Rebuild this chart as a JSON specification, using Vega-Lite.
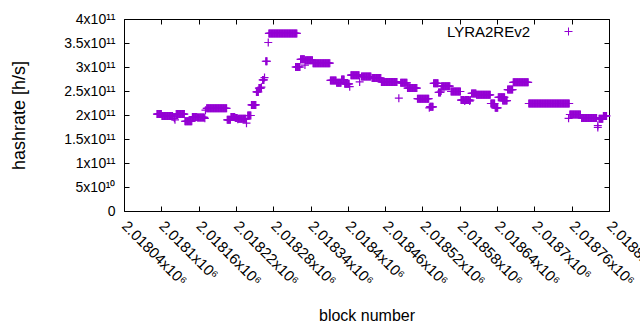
{
  "$schema": "https://vega.github.io/schema/vega-lite/v6.json",
  "width": 485,
  "height": 192,
  "autosize": {"type": "none"},
  "padding": {"left": 124, "top": 19, "right": 31, "bottom": 119},
  "background": "white",
  "config": {
    "view": {"stroke": "black", "strokeWidth": 1},
    "font": "Liberation Sans",
    "axis": {"domain": false, "grid": false, "tickColor": "black", "tickSize": -5, "tickWidth": 1, "labelColor": "black", "titleColor": "black", "labelFont": "Liberation Sans", "titleFont": "Liberation Sans", "titleFontWeight": "normal"}
  },
  "data": {"values": [
{"b":2018093,"h":2.02e11},{"b":2018094,"h":2.02e11},{"b":2018095,"h":2.02e11},{"b":2018096,"h":2.02e11},{"b":2018097,"h":2.02e11},{"b":2018098,"h":2.02e11},{"b":2018099,"h":2.02e11},{"b":2018100,"h":2.02e11},
{"b":2018101,"h":1.98e11},{"b":2018102,"h":1.98e11},{"b":2018103,"h":1.98e11},{"b":2018104,"h":1.98e11},{"b":2018105,"h":1.98e11},{"b":2018106,"h":1.98e11},{"b":2018107,"h":1.98e11},{"b":2018108,"h":1.98e11},{"b":2018109,"h":1.98e11},{"b":2018110,"h":1.98e11},{"b":2018111,"h":1.98e11},{"b":2018112,"h":1.98e11},{"b":2018113,"h":1.98e11},{"b":2018114,"h":1.98e11},{"b":2018115,"h":1.98e11},{"b":2018116,"h":1.98e11},{"b":2018117,"h":1.98e11},{"b":2018118,"h":1.98e11},{"b":2018119,"h":1.96e11},
{"b":2018121,"h":1.93e11},{"b":2018122,"h":1.9e11},
{"b":2018124,"h":2.02e11},{"b":2018125,"h":2.02e11},{"b":2018126,"h":2.02e11},{"b":2018127,"h":2.02e11},{"b":2018128,"h":2.02e11},{"b":2018129,"h":2.02e11},{"b":2018130,"h":2.02e11},{"b":2018131,"h":2.02e11},{"b":2018132,"h":2.02e11},{"b":2018133,"h":2.02e11},{"b":2018134,"h":2.02e11},{"b":2018135,"h":2.02e11},{"b":2018136,"h":2.02e11},{"b":2018137,"h":2.02e11},
{"b":2018138,"h":1.87e11},{"b":2018139,"h":1.87e11},{"b":2018140,"h":1.87e11},{"b":2018141,"h":1.87e11},{"b":2018142,"h":1.87e11},{"b":2018143,"h":1.87e11},{"b":2018144,"h":1.87e11},{"b":2018145,"h":1.87e11},{"b":2018146,"h":1.87e11},{"b":2018147,"h":1.87e11},{"b":2018148,"h":1.87e11},{"b":2018149,"h":1.87e11},
{"b":2018150,"h":1.96e11},{"b":2018151,"h":1.96e11},{"b":2018152,"h":1.96e11},{"b":2018153,"h":1.96e11},{"b":2018154,"h":1.96e11},{"b":2018155,"h":1.96e11},{"b":2018156,"h":1.96e11},{"b":2018157,"h":1.96e11},
{"b":2018158,"h":1.95e11},{"b":2018159,"h":1.95e11},{"b":2018160,"h":1.95e11},{"b":2018161,"h":1.95e11},{"b":2018162,"h":1.95e11},{"b":2018163,"h":1.95e11},{"b":2018164,"h":1.95e11},{"b":2018165,"h":1.95e11},{"b":2018166,"h":1.95e11},{"b":2018167,"h":1.95e11},{"b":2018168,"h":1.95e11},{"b":2018169,"h":1.95e11},{"b":2018170,"h":1.93e11},
{"b":2018171,"h":2.1e11},
{"b":2018173,"h":2.14e11},{"b":2018174,"h":2.14e11},{"b":2018175,"h":2.14e11},{"b":2018176,"h":2.14e11},{"b":2018177,"h":2.14e11},{"b":2018178,"h":2.14e11},{"b":2018179,"h":2.14e11},{"b":2018180,"h":2.14e11},{"b":2018181,"h":2.14e11},{"b":2018182,"h":2.14e11},{"b":2018183,"h":2.14e11},{"b":2018184,"h":2.14e11},{"b":2018185,"h":2.14e11},{"b":2018186,"h":2.14e11},{"b":2018187,"h":2.14e11},{"b":2018188,"h":2.14e11},{"b":2018189,"h":2.14e11},{"b":2018190,"h":2.14e11},{"b":2018191,"h":2.14e11},{"b":2018192,"h":2.14e11},{"b":2018193,"h":2.14e11},{"b":2018194,"h":2.14e11},{"b":2018195,"h":2.14e11},{"b":2018196,"h":2.14e11},{"b":2018197,"h":2.14e11},{"b":2018198,"h":2.14e11},{"b":2018199,"h":2.14e11},{"b":2018200,"h":2.14e11},{"b":2018201,"h":2.14e11},{"b":2018202,"h":2.14e11},{"b":2018203,"h":2.14e11},{"b":2018204,"h":2.14e11},{"b":2018205,"h":2.14e11},
{"b":2018206,"h":1.9e11},{"b":2018207,"h":1.9e11},{"b":2018208,"h":1.9e11},{"b":2018209,"h":1.9e11},{"b":2018210,"h":1.9e11},{"b":2018211,"h":1.9e11},
{"b":2018212,"h":1.96e11},{"b":2018213,"h":1.96e11},{"b":2018214,"h":1.96e11},{"b":2018215,"h":1.96e11},{"b":2018216,"h":1.96e11},{"b":2018217,"h":1.96e11},{"b":2018218,"h":1.96e11},
{"b":2018219,"h":1.94e11},{"b":2018220,"h":1.94e11},{"b":2018221,"h":1.94e11},{"b":2018222,"h":1.94e11},{"b":2018223,"h":1.91e11},
{"b":2018224,"h":1.92e11},{"b":2018225,"h":1.92e11},{"b":2018226,"h":1.92e11},{"b":2018227,"h":1.92e11},{"b":2018228,"h":1.92e11},{"b":2018229,"h":1.92e11},{"b":2018230,"h":1.92e11},{"b":2018231,"h":1.92e11},{"b":2018232,"h":1.92e11},{"b":2018233,"h":1.92e11},{"b":2018234,"h":1.92e11},{"b":2018235,"h":1.92e11},{"b":2018236,"h":1.92e11},
{"b":2018237,"h":1.83e11},
{"b":2018239,"h":1.99e11},{"b":2018240,"h":1.99e11},{"b":2018241,"h":1.99e11},{"b":2018242,"h":1.99e11},{"b":2018243,"h":1.99e11},{"b":2018244,"h":1.99e11},
{"b":2018245,"h":2.21e11},{"b":2018246,"h":2.21e11},{"b":2018247,"h":2.21e11},{"b":2018248,"h":2.21e11},{"b":2018249,"h":2.21e11},{"b":2018250,"h":2.21e11},{"b":2018251,"h":2.21e11},{"b":2018252,"h":2.21e11},
{"b":2018253,"h":2.48e11},{"b":2018254,"h":2.48e11},{"b":2018255,"h":2.48e11},{"b":2018256,"h":2.48e11},
{"b":2018257,"h":2.56e11},{"b":2018258,"h":2.56e11},{"b":2018259,"h":2.56e11},{"b":2018260,"h":2.56e11},{"b":2018261,"h":2.58e11},
{"b":2018263,"h":2.73e11},{"b":2018264,"h":2.73e11},{"b":2018265,"h":2.73e11},{"b":2018266,"h":2.78e11},
{"b":2018268,"h":3.12e11},{"b":2018269,"h":3.12e11},{"b":2018270,"h":3.12e11},{"b":2018272,"h":3.51e11},
{"b":2018273,"h":3.7e11},{"b":2018274,"h":3.7e11},{"b":2018275,"h":3.7e11},{"b":2018276,"h":3.7e11},{"b":2018277,"h":3.7e11},{"b":2018278,"h":3.7e11},{"b":2018279,"h":3.7e11},{"b":2018280,"h":3.7e11},{"b":2018281,"h":3.7e11},{"b":2018282,"h":3.7e11},{"b":2018283,"h":3.7e11},{"b":2018284,"h":3.7e11},{"b":2018285,"h":3.7e11},{"b":2018286,"h":3.7e11},{"b":2018287,"h":3.7e11},{"b":2018288,"h":3.7e11},{"b":2018289,"h":3.7e11},{"b":2018290,"h":3.7e11},{"b":2018291,"h":3.7e11},{"b":2018292,"h":3.7e11},{"b":2018293,"h":3.7e11},{"b":2018294,"h":3.7e11},{"b":2018295,"h":3.7e11},{"b":2018296,"h":3.7e11},{"b":2018297,"h":3.7e11},{"b":2018298,"h":3.7e11},{"b":2018299,"h":3.7e11},{"b":2018300,"h":3.7e11},{"b":2018301,"h":3.7e11},{"b":2018302,"h":3.7e11},{"b":2018303,"h":3.7e11},{"b":2018304,"h":3.7e11},{"b":2018305,"h":3.7e11},{"b":2018306,"h":3.7e11},{"b":2018307,"h":3.7e11},{"b":2018308,"h":3.7e11},{"b":2018309,"h":3.7e11},{"b":2018310,"h":3.7e11},{"b":2018311,"h":3.7e11},{"b":2018312,"h":3.7e11},{"b":2018313,"h":3.7e11},{"b":2018314,"h":3.7e11},{"b":2018315,"h":3.7e11},{"b":2018316,"h":3.7e11},{"b":2018317,"h":3.7e11},{"b":2018318,"h":3.7e11},
{"b":2018316,"h":3.0e11},{"b":2018317,"h":3.0e11},{"b":2018318,"h":3.0e11},{"b":2018319,"h":3.0e11},{"b":2018320,"h":3.0e11},{"b":2018321,"h":3.0e11},{"b":2018322,"h":3.0e11},{"b":2018323,"h":3.0e11},
{"b":2018324,"h":3.16e11},{"b":2018325,"h":3.16e11},{"b":2018326,"h":3.16e11},{"b":2018327,"h":3.16e11},{"b":2018328,"h":3.16e11},{"b":2018329,"h":3.16e11},{"b":2018330,"h":3.16e11},
{"b":2018331,"h":3.04e11},
{"b":2018332,"h":3.14e11},{"b":2018333,"h":3.14e11},{"b":2018334,"h":3.14e11},{"b":2018335,"h":3.14e11},{"b":2018336,"h":3.14e11},{"b":2018337,"h":3.14e11},{"b":2018338,"h":3.14e11},{"b":2018339,"h":3.14e11},{"b":2018340,"h":3.14e11},{"b":2018341,"h":3.14e11},{"b":2018342,"h":3.14e11},{"b":2018343,"h":3.14e11},
{"b":2018344,"h":3.08e11},{"b":2018345,"h":3.08e11},{"b":2018346,"h":3.08e11},{"b":2018347,"h":3.08e11},{"b":2018348,"h":3.08e11},{"b":2018349,"h":3.08e11},{"b":2018350,"h":3.08e11},{"b":2018351,"h":3.08e11},{"b":2018352,"h":3.08e11},{"b":2018353,"h":3.08e11},{"b":2018354,"h":3.08e11},{"b":2018355,"h":3.08e11},{"b":2018356,"h":3.08e11},{"b":2018357,"h":3.08e11},{"b":2018358,"h":3.08e11},{"b":2018359,"h":3.08e11},{"b":2018360,"h":3.08e11},{"b":2018361,"h":3.08e11},{"b":2018362,"h":3.08e11},{"b":2018363,"h":3.08e11},{"b":2018364,"h":3.08e11},{"b":2018365,"h":3.08e11},{"b":2018366,"h":3.08e11},{"b":2018367,"h":3.08e11},{"b":2018368,"h":3.08e11},{"b":2018369,"h":3.08e11},{"b":2018370,"h":3.08e11},{"b":2018371,"h":3.08e11},
{"b":2018372,"h":2.72e11},{"b":2018373,"h":2.72e11},{"b":2018374,"h":2.72e11},{"b":2018375,"h":2.72e11},{"b":2018376,"h":2.72e11},{"b":2018377,"h":2.72e11},{"b":2018378,"h":2.72e11},{"b":2018379,"h":2.72e11},{"b":2018380,"h":2.72e11},{"b":2018381,"h":2.72e11},
{"b":2018382,"h":2.67e11},{"b":2018383,"h":2.67e11},{"b":2018384,"h":2.67e11},{"b":2018385,"h":2.67e11},{"b":2018386,"h":2.67e11},{"b":2018387,"h":2.67e11},{"b":2018388,"h":2.67e11},{"b":2018389,"h":2.67e11},
{"b":2018390,"h":2.74e11},{"b":2018391,"h":2.74e11},{"b":2018392,"h":2.74e11},{"b":2018393,"h":2.74e11},{"b":2018394,"h":2.74e11},
{"b":2018395,"h":2.65e11},{"b":2018396,"h":2.65e11},{"b":2018397,"h":2.65e11},{"b":2018398,"h":2.65e11},{"b":2018399,"h":2.65e11},{"b":2018400,"h":2.65e11},{"b":2018401,"h":2.65e11},{"b":2018402,"h":2.65e11},{"b":2018403,"h":2.59e11},
{"b":2018405,"h":2.83e11},{"b":2018406,"h":2.83e11},{"b":2018407,"h":2.83e11},{"b":2018408,"h":2.83e11},{"b":2018409,"h":2.83e11},{"b":2018410,"h":2.83e11},{"b":2018411,"h":2.83e11},{"b":2018412,"h":2.83e11},{"b":2018413,"h":2.83e11},{"b":2018414,"h":2.83e11},{"b":2018415,"h":2.83e11},{"b":2018416,"h":2.83e11},{"b":2018417,"h":2.83e11},{"b":2018418,"h":2.83e11},
{"b":2018419,"h":2.69e11},
{"b":2018422,"h":2.8e11},{"b":2018423,"h":2.8e11},{"b":2018424,"h":2.8e11},{"b":2018425,"h":2.8e11},{"b":2018426,"h":2.8e11},{"b":2018427,"h":2.8e11},{"b":2018428,"h":2.8e11},{"b":2018429,"h":2.8e11},{"b":2018430,"h":2.8e11},{"b":2018431,"h":2.8e11},{"b":2018432,"h":2.8e11},{"b":2018433,"h":2.8e11},{"b":2018434,"h":2.8e11},{"b":2018435,"h":2.8e11},{"b":2018436,"h":2.8e11},{"b":2018437,"h":2.8e11},
{"b":2018439,"h":2.77e11},{"b":2018440,"h":2.77e11},{"b":2018441,"h":2.77e11},{"b":2018442,"h":2.77e11},{"b":2018443,"h":2.77e11},{"b":2018444,"h":2.77e11},{"b":2018445,"h":2.77e11},{"b":2018446,"h":2.77e11},{"b":2018447,"h":2.77e11},{"b":2018448,"h":2.77e11},{"b":2018449,"h":2.77e11},{"b":2018450,"h":2.77e11},{"b":2018451,"h":2.77e11},{"b":2018452,"h":2.77e11},{"b":2018453,"h":2.77e11},
{"b":2018454,"h":2.69e11},{"b":2018455,"h":2.69e11},{"b":2018456,"h":2.69e11},{"b":2018457,"h":2.69e11},{"b":2018458,"h":2.69e11},{"b":2018459,"h":2.69e11},{"b":2018460,"h":2.69e11},{"b":2018461,"h":2.69e11},{"b":2018462,"h":2.69e11},{"b":2018463,"h":2.69e11},{"b":2018464,"h":2.69e11},{"b":2018465,"h":2.69e11},{"b":2018466,"h":2.69e11},{"b":2018467,"h":2.69e11},{"b":2018468,"h":2.69e11},{"b":2018469,"h":2.69e11},{"b":2018470,"h":2.69e11},{"b":2018471,"h":2.69e11},{"b":2018472,"h":2.69e11},{"b":2018473,"h":2.69e11},{"b":2018474,"h":2.69e11},{"b":2018475,"h":2.69e11},{"b":2018476,"h":2.69e11},{"b":2018477,"h":2.69e11},{"b":2018478,"h":2.69e11},{"b":2018479,"h":2.69e11},
{"b":2018482,"h":2.35e11},
{"b":2018485,"h":2.67e11},{"b":2018486,"h":2.67e11},{"b":2018487,"h":2.67e11},{"b":2018488,"h":2.67e11},{"b":2018489,"h":2.67e11},{"b":2018490,"h":2.67e11},{"b":2018491,"h":2.67e11},{"b":2018492,"h":2.67e11},{"b":2018493,"h":2.67e11},{"b":2018494,"h":2.67e11},{"b":2018495,"h":2.67e11},
{"b":2018496,"h":2.56e11},{"b":2018497,"h":2.56e11},{"b":2018498,"h":2.56e11},{"b":2018499,"h":2.56e11},{"b":2018500,"h":2.56e11},{"b":2018501,"h":2.56e11},{"b":2018502,"h":2.56e11},{"b":2018503,"h":2.56e11},{"b":2018504,"h":2.56e11},{"b":2018505,"h":2.56e11},{"b":2018506,"h":2.56e11},{"b":2018507,"h":2.56e11},{"b":2018508,"h":2.56e11},{"b":2018509,"h":2.56e11},{"b":2018510,"h":2.56e11},{"b":2018511,"h":2.56e11},
{"b":2018512,"h":2.34e11},{"b":2018513,"h":2.34e11},{"b":2018514,"h":2.34e11},{"b":2018515,"h":2.34e11},{"b":2018516,"h":2.34e11},{"b":2018517,"h":2.34e11},{"b":2018518,"h":2.34e11},{"b":2018519,"h":2.34e11},{"b":2018520,"h":2.34e11},{"b":2018521,"h":2.34e11},{"b":2018522,"h":2.34e11},{"b":2018523,"h":2.34e11},{"b":2018524,"h":2.34e11},{"b":2018525,"h":2.34e11},{"b":2018526,"h":2.34e11},{"b":2018527,"h":2.34e11},{"b":2018528,"h":2.34e11},{"b":2018529,"h":2.34e11},{"b":2018530,"h":2.34e11},
{"b":2018531,"h":2.15e11},{"b":2018532,"h":2.17e11},{"b":2018533,"h":2.17e11},{"b":2018534,"h":2.17e11},{"b":2018535,"h":2.17e11},{"b":2018536,"h":2.17e11},{"b":2018537,"h":2.17e11},
{"b":2018538,"h":2.66e11},{"b":2018539,"h":2.66e11},{"b":2018540,"h":2.66e11},{"b":2018541,"h":2.66e11},{"b":2018542,"h":2.66e11},{"b":2018543,"h":2.66e11},{"b":2018544,"h":2.66e11},{"b":2018545,"h":2.66e11},
{"b":2018546,"h":2.47e11},{"b":2018547,"h":2.47e11},{"b":2018548,"h":2.47e11},{"b":2018549,"h":2.47e11},{"b":2018550,"h":2.5e11},
{"b":2018551,"h":2.6e11},{"b":2018552,"h":2.6e11},{"b":2018553,"h":2.6e11},{"b":2018554,"h":2.6e11},{"b":2018555,"h":2.6e11},{"b":2018556,"h":2.6e11},{"b":2018557,"h":2.6e11},{"b":2018558,"h":2.6e11},{"b":2018559,"h":2.6e11},{"b":2018560,"h":2.6e11},{"b":2018561,"h":2.6e11},{"b":2018562,"h":2.6e11},{"b":2018563,"h":2.6e11},{"b":2018564,"h":2.6e11},
{"b":2018566,"h":2.49e11},{"b":2018567,"h":2.49e11},{"b":2018568,"h":2.49e11},{"b":2018569,"h":2.49e11},{"b":2018570,"h":2.49e11},{"b":2018571,"h":2.49e11},{"b":2018572,"h":2.49e11},{"b":2018573,"h":2.49e11},{"b":2018574,"h":2.49e11},{"b":2018575,"h":2.49e11},{"b":2018576,"h":2.49e11},{"b":2018577,"h":2.49e11},{"b":2018578,"h":2.49e11},{"b":2018579,"h":2.49e11},{"b":2018580,"h":2.49e11},{"b":2018581,"h":2.49e11},
{"b":2018582,"h":2.31e11},{"b":2018583,"h":2.31e11},{"b":2018584,"h":2.31e11},{"b":2018585,"h":2.31e11},{"b":2018586,"h":2.31e11},{"b":2018587,"h":2.31e11},{"b":2018588,"h":2.29e11},{"b":2018589,"h":2.31e11},{"b":2018590,"h":2.31e11},{"b":2018591,"h":2.31e11},{"b":2018592,"h":2.31e11},{"b":2018593,"h":2.31e11},{"b":2018594,"h":2.31e11},{"b":2018595,"h":2.31e11},{"b":2018596,"h":2.29e11},{"b":2018597,"h":2.31e11},
{"b":2018599,"h":2.45e11},{"b":2018600,"h":2.45e11},{"b":2018601,"h":2.45e11},{"b":2018602,"h":2.45e11},{"b":2018603,"h":2.45e11},{"b":2018604,"h":2.45e11},{"b":2018605,"h":2.45e11},{"b":2018606,"h":2.45e11},
{"b":2018607,"h":2.42e11},{"b":2018608,"h":2.42e11},{"b":2018609,"h":2.42e11},{"b":2018610,"h":2.42e11},{"b":2018611,"h":2.42e11},{"b":2018612,"h":2.42e11},{"b":2018613,"h":2.42e11},{"b":2018614,"h":2.42e11},{"b":2018615,"h":2.42e11},{"b":2018616,"h":2.42e11},{"b":2018617,"h":2.42e11},{"b":2018618,"h":2.42e11},{"b":2018619,"h":2.42e11},{"b":2018620,"h":2.42e11},{"b":2018621,"h":2.42e11},{"b":2018622,"h":2.42e11},{"b":2018623,"h":2.42e11},{"b":2018624,"h":2.42e11},{"b":2018625,"h":2.42e11},{"b":2018626,"h":2.42e11},{"b":2018627,"h":2.42e11},{"b":2018628,"h":2.42e11},{"b":2018629,"h":2.42e11},
{"b":2018630,"h":2.24e11},{"b":2018631,"h":2.24e11},{"b":2018632,"h":2.24e11},{"b":2018633,"h":2.24e11},{"b":2018634,"h":2.24e11},{"b":2018635,"h":2.24e11},{"b":2018636,"h":2.24e11},
{"b":2018637,"h":2.15e11},{"b":2018638,"h":2.15e11},{"b":2018639,"h":2.15e11},{"b":2018640,"h":2.15e11},{"b":2018641,"h":2.15e11},
{"b":2018642,"h":2.37e11},{"b":2018643,"h":2.37e11},{"b":2018644,"h":2.37e11},{"b":2018645,"h":2.37e11},{"b":2018646,"h":2.37e11},{"b":2018647,"h":2.37e11},{"b":2018648,"h":2.37e11},{"b":2018649,"h":2.37e11},{"b":2018650,"h":2.37e11},{"b":2018651,"h":2.37e11},{"b":2018652,"h":2.37e11},
{"b":2018649,"h":2.3e11},{"b":2018650,"h":2.3e11},{"b":2018651,"h":2.3e11},{"b":2018652,"h":2.3e11},{"b":2018653,"h":2.3e11},{"b":2018654,"h":2.3e11},{"b":2018655,"h":2.3e11},{"b":2018656,"h":2.3e11},
{"b":2018657,"h":2.53e11},{"b":2018658,"h":2.53e11},{"b":2018659,"h":2.53e11},{"b":2018660,"h":2.53e11},{"b":2018661,"h":2.53e11},{"b":2018662,"h":2.53e11},{"b":2018663,"h":2.53e11},{"b":2018664,"h":2.53e11},{"b":2018665,"h":2.53e11},
{"b":2018666,"h":2.68e11},{"b":2018667,"h":2.68e11},{"b":2018668,"h":2.68e11},{"b":2018669,"h":2.68e11},{"b":2018670,"h":2.68e11},{"b":2018671,"h":2.68e11},{"b":2018672,"h":2.68e11},{"b":2018673,"h":2.68e11},{"b":2018674,"h":2.68e11},{"b":2018675,"h":2.68e11},{"b":2018676,"h":2.68e11},{"b":2018677,"h":2.68e11},{"b":2018678,"h":2.68e11},{"b":2018679,"h":2.68e11},{"b":2018680,"h":2.68e11},{"b":2018681,"h":2.68e11},{"b":2018682,"h":2.68e11},{"b":2018683,"h":2.68e11},{"b":2018684,"h":2.68e11},{"b":2018685,"h":2.68e11},{"b":2018686,"h":2.68e11},{"b":2018687,"h":2.68e11},{"b":2018688,"h":2.68e11},{"b":2018689,"h":2.68e11},{"b":2018690,"h":2.68e11},
{"b":2018691,"h":2.24e11},{"b":2018692,"h":2.24e11},{"b":2018693,"h":2.24e11},{"b":2018694,"h":2.24e11},{"b":2018695,"h":2.24e11},{"b":2018696,"h":2.24e11},{"b":2018697,"h":2.24e11},{"b":2018698,"h":2.24e11},{"b":2018699,"h":2.24e11},{"b":2018700,"h":2.24e11},{"b":2018701,"h":2.24e11},{"b":2018702,"h":2.24e11},{"b":2018703,"h":2.24e11},{"b":2018704,"h":2.24e11},{"b":2018705,"h":2.24e11},{"b":2018706,"h":2.24e11},{"b":2018707,"h":2.24e11},{"b":2018708,"h":2.24e11},{"b":2018709,"h":2.24e11},{"b":2018710,"h":2.24e11},{"b":2018711,"h":2.24e11},{"b":2018712,"h":2.24e11},{"b":2018713,"h":2.24e11},{"b":2018714,"h":2.24e11},{"b":2018715,"h":2.24e11},{"b":2018716,"h":2.24e11},{"b":2018717,"h":2.24e11},{"b":2018718,"h":2.24e11},{"b":2018719,"h":2.24e11},{"b":2018720,"h":2.24e11},{"b":2018721,"h":2.24e11},{"b":2018722,"h":2.24e11},{"b":2018723,"h":2.24e11},{"b":2018724,"h":2.24e11},{"b":2018725,"h":2.24e11},{"b":2018726,"h":2.24e11},{"b":2018727,"h":2.24e11},{"b":2018728,"h":2.24e11},{"b":2018729,"h":2.24e11},{"b":2018730,"h":2.24e11},{"b":2018731,"h":2.24e11},{"b":2018732,"h":2.24e11},{"b":2018733,"h":2.24e11},{"b":2018734,"h":2.24e11},{"b":2018735,"h":2.24e11},{"b":2018736,"h":2.24e11},{"b":2018737,"h":2.24e11},{"b":2018738,"h":2.24e11},{"b":2018739,"h":2.24e11},{"b":2018740,"h":2.24e11},{"b":2018741,"h":2.24e11},{"b":2018742,"h":2.24e11},{"b":2018743,"h":2.24e11},{"b":2018744,"h":2.24e11},{"b":2018745,"h":2.24e11},{"b":2018746,"h":2.24e11},{"b":2018747,"h":2.24e11},{"b":2018748,"h":2.24e11},{"b":2018749,"h":2.24e11},{"b":2018750,"h":2.24e11},{"b":2018751,"h":2.24e11},{"b":2018752,"h":2.24e11},{"b":2018753,"h":2.24e11},{"b":2018754,"h":2.24e11},{"b":2018755,"h":2.24e11},{"b":2018756,"h":2.24e11},
{"b":2018755,"h":1.93e11},
{"b":2018757,"h":2.01e11},{"b":2018758,"h":2.01e11},{"b":2018759,"h":2.01e11},{"b":2018760,"h":2.01e11},{"b":2018761,"h":2.01e11},{"b":2018762,"h":2.01e11},{"b":2018763,"h":2.01e11},{"b":2018764,"h":2.01e11},{"b":2018765,"h":2.01e11},{"b":2018766,"h":2.01e11},{"b":2018767,"h":2.01e11},{"b":2018768,"h":2.01e11},{"b":2018769,"h":2.01e11},{"b":2018770,"h":2.01e11},{"b":2018771,"h":2.01e11},{"b":2018772,"h":2.01e11},{"b":2018773,"h":2.01e11},{"b":2018774,"h":2.01e11},
{"b":2018776,"h":1.94e11},{"b":2018777,"h":1.94e11},{"b":2018778,"h":1.94e11},{"b":2018779,"h":1.94e11},{"b":2018780,"h":1.94e11},{"b":2018781,"h":1.94e11},{"b":2018782,"h":1.94e11},{"b":2018783,"h":1.94e11},{"b":2018784,"h":1.94e11},{"b":2018785,"h":1.94e11},{"b":2018786,"h":1.94e11},{"b":2018787,"h":1.94e11},{"b":2018788,"h":1.94e11},{"b":2018789,"h":1.94e11},{"b":2018790,"h":1.94e11},{"b":2018791,"h":1.94e11},{"b":2018792,"h":1.94e11},{"b":2018793,"h":1.94e11},{"b":2018794,"h":1.94e11},{"b":2018795,"h":1.94e11},{"b":2018796,"h":1.94e11},{"b":2018797,"h":1.94e11},{"b":2018798,"h":1.94e11},{"b":2018799,"h":1.94e11},{"b":2018800,"h":1.94e11},
{"b":2018802,"h":1.74e11},{"b":2018802,"h":1.78e11},
{"b":2018804,"h":1.92e11},{"b":2018805,"h":1.92e11},{"b":2018806,"h":1.92e11},{"b":2018807,"h":1.92e11},{"b":2018808,"h":1.92e11},{"b":2018809,"h":1.92e11},{"b":2018810,"h":1.92e11},
{"b":2018811,"h":1.98e11},{"b":2018812,"h":1.98e11},{"b":2018813,"h":1.98e11},{"b":2018814,"h":1.98e11},{"b":2018815,"h":1.98e11},{"b":2018816,"h":1.98e11}
  ]},
  "layer": [
    {
      "mark": {"type": "point", "shape": "M-1,0H1M0,-1V1", "filled": false, "size": 64, "strokeWidth": 1.2, "opacity": 1},
      "encoding": {
        "x": {"field": "b", "type": "quantitative", "scale": {"domain": [2018040, 2018820], "nice": false, "zero": false},
          "axis": {"orient": "bottom", "values": [2018040,2018100,2018160,2018220,2018280,2018340,2018400,2018460,2018520,2018580,2018640,2018700,2018760,2018820],
            "labelExpr": "format(datum.value/1e6, '.5~f') + 'x10⁶'", "labelAngle": 45, "labelAlign": "left", "labelBaseline": "middle", "labelFontSize": 15, "labelPadding": 17, "labelFlush": false, "labelOverlap": false, "labelBound": false,
            "title": "block number", "titleFontSize": 16, "titlePadding": 19}},
        "y": {"field": "h", "type": "quantitative", "scale": {"domain": [0, 4e11], "nice": false, "zero": true},
          "axis": {"orient": "left", "values": [0,5e10,1e11,1.5e11,2e11,2.5e11,3e11,3.5e11,4e11],
            "labelExpr": "datum.value == 0 ? '0' : (datum.value < 1e11 ? format(datum.value/1e10, '~g') + 'x10¹⁰' : format(datum.value/1e11, '~g') + 'x10¹¹')",
            "labelFontSize": 14, "labelPadding": 14, "labelFlush": false, "labelOverlap": false, "title": "hashrate [h/s]", "titleFontSize": 18, "titlePadding": 35}},
        "color": {"datum": "LYRA2REv2", "type": "nominal", "scale": {"range": ["#9400d3"]},
          "legend": {"orient": "none", "legendX": 437, "legendY": 5, "padding": 0, "title": null, "labelAlign": "right", "labelOffset": -46, "labelFontSize": 15, "labelFont": "Liberation Sans", "labelColor": "black", "symbolType": "M-1,0H1M0,-1V1", "symbolSize": 64, "symbolStrokeWidth": 1, "symbolFillColor": "transparent", "symbolStrokeColor": "#9400d3"}}
      }
    },
    {
      "mark": {"type": "point", "opacity": 0},
      "encoding": {
        "x": {"field": "b", "type": "quantitative", "axis": {"orient": "top", "values": [2018040,2018100,2018160,2018220,2018280,2018340,2018400,2018460,2018520,2018580,2018640,2018700,2018760,2018820], "labels": false, "title": null}},
        "y": {"field": "h", "type": "quantitative", "axis": {"orient": "right", "values": [0,5e10,1e11,1.5e11,2e11,2.5e11,3e11,3.5e11,4e11], "labels": false, "title": null}}
      }
    }
  ],
  "resolve": {"axis": {"x": "independent", "y": "independent"}}
}
